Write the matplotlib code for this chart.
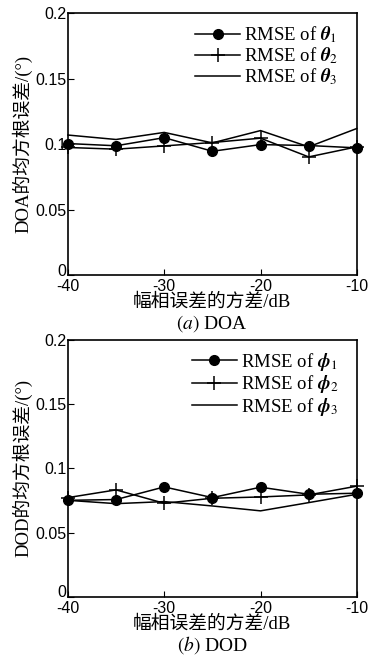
import matplotlib.pyplot as plt
from matplotlib.transforms import ScaledTranslation

plt.rcParams['mathtext.fontset'] = 'stix'
plt.rcParams['axes.unicode_minus'] = False

# Data
snr = [-40, -35, -30, -25, -20, -15, -10]
doa_1 = [0.1005, 0.0988, 0.1050, 0.0946, 0.0997, 0.0990, 0.0972]
doa_2 = [0.0975, 0.0962, 0.0987, 0.1013, 0.1046, 0.0903, 0.0980]
doa_3 = [0.1070, 0.1036, 0.1090, 0.1010, 0.1104, 0.0980, 0.1120]
dod_1 = [0.0752, 0.0758, 0.0856, 0.0773, 0.0854, 0.0799, 0.0807]
dod_2 = [0.0773, 0.0833, 0.0729, 0.0768, 0.0778, 0.0794, 0.0862]
dod_3 = [0.0752, 0.0726, 0.0742, 0.0708, 0.0670, 0.0734, 0.0799]

x_ticks = [-40, -30, -20, -10]
y_ticks = [0, 0.05, 0.1, 0.15, 0.2]
y_tick_labels = ['0', '0.05', '0.1', '0.15', '0.2']

serif_cjk = ['Liberation Serif', 'Noto Sans CJK SC']


def draw_panel(fig, ax, series, symbol, ylabel, caption):
    ax.plot(snr, series[0], color='black', lw=1.1, marker='o', ms=7,
            label=r'RMSE of $\boldsymbol{\%s}_1$' % symbol, clip_on=False)
    ax.plot(snr, series[1], color='black', lw=1.1, marker='+', ms=10, mew=1.1,
            label=r'RMSE of $\boldsymbol{\%s}_2$' % symbol, clip_on=False)
    ax.plot(snr, series[2], color='black', lw=1.1,
            label=r'RMSE of $\boldsymbol{\%s}_3$' % symbol, clip_on=False)
    ax.set_xlim(-40, -10)
    ax.set_ylim(0, 0.2)
    ax.set_xticks(x_ticks)
    ax.set_yticks(y_ticks)
    ax.set_yticklabels(y_tick_labels)
    ax.tick_params(direction='in', length=4, labelsize=11.5)
    ax.tick_params(axis='x', pad=2.5)
    ax.tick_params(axis='y', pad=1)
    for lab in ax.get_xticklabels() + ax.get_yticklabels():
        lab.set_family('Liberation Sans')
    # the "0" sits a little above the axis line, clear of "-40"
    zero = ax.yaxis.get_major_ticks()[0].label1
    zero.set_transform(zero.get_transform() + ScaledTranslation(0, 4 / 72, fig.dpi_scale_trans))
    for s in ax.spines.values():
        s.set_linewidth(1.2)
    ax.set_ylabel(ylabel, family=serif_cjk, fontsize=13.5, labelpad=2)
    ax.set_xlabel('幅相误差的方差/dB', family=serif_cjk, fontsize=13.5, labelpad=0)
    ax.text(0.5, -0.145, caption, transform=ax.transAxes, ha='center', va='top',
            family='Liberation Serif', fontsize=14)
    ax.legend(loc='upper right', bbox_to_anchor=(1.0, 1.03), frameon=False,
              handlelength=2.4, handletextpad=0.2, labelspacing=0.02,
              borderaxespad=0.6, prop={'family': 'Liberation Serif', 'size': 13.5})


fig = plt.figure(figsize=(3.69, 6.63), dpi=100)
ax1 = fig.add_axes([0.184, 0.585, 0.783, 0.395])
ax2 = fig.add_axes([0.184, 0.0995, 0.783, 0.388])

draw_panel(fig, ax1, [doa_1, doa_2, doa_3], 'theta', 'DOA的均方根误差/(°)',
           r'$\mathit{(a)}$ DOA')
draw_panel(fig, ax2, [dod_1, dod_2, dod_3], 'phi', 'DOD的均方根误差/(°)',
           r'$\mathit{(b)}$ DOD')

fig.savefig('out.png', dpi=100)
